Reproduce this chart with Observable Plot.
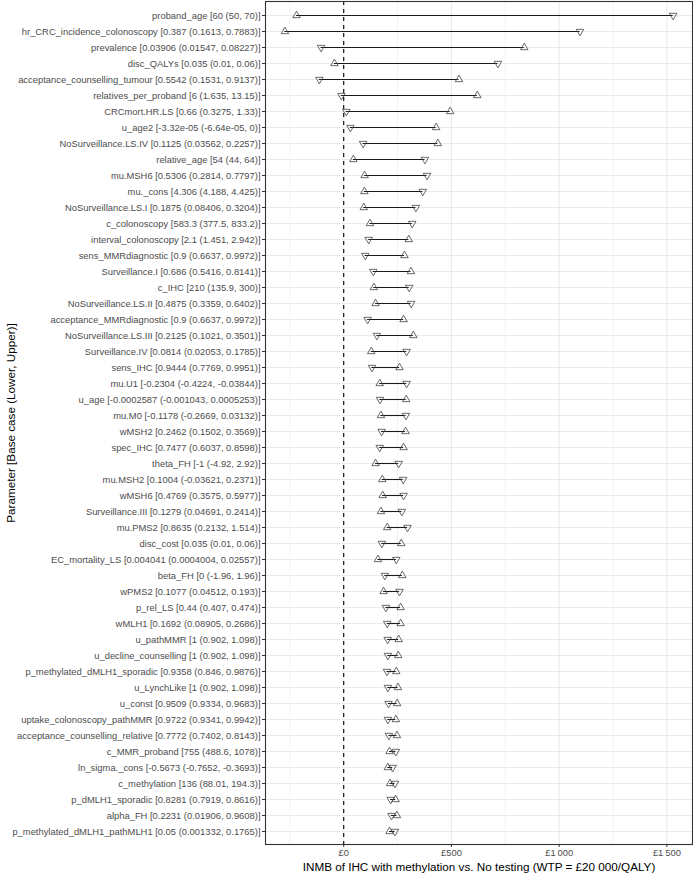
<!DOCTYPE html>
<html>
<head>
<meta charset="utf-8">
<script src="https://cdn.jsdelivr.net/npm/d3@7"></script>
<script src="https://cdn.jsdelivr.net/npm/@observablehq/plot@0.6"></script>
<style>
  html, body { margin: 0; padding: 0; background: #fff; }
  #chart svg { font-family: "Liberation Sans", Arial, Helvetica, sans-serif; }
  #chart g[aria-label="y-axis tick label"] text,
  #chart g[aria-label="x-axis tick label"] text { fill: #4d4d4d; }
  #chart g[aria-label="y-axis label"] text { font-size: 11.7px; fill: #000; }
</style>
</head>
<body>
<div id="chart"></div>
<script>
const params = [
  "proband_age","hr_CRC_incidence_colonoscopy","prevalence","disc_QALYs","acceptance_counselling_tumour",
  "relatives_per_proband","CRCmort.HR.LS","u_age2","NoSurveillance.LS.IV","relative_age",
  "mu.MSH6","mu._cons","NoSurveillance.LS.I","c_colonoscopy","interval_colonoscopy",
  "sens_MMRdiagnostic","Surveillance.I","c_IHC","NoSurveillance.LS.II","acceptance_MMRdiagnostic",
  "NoSurveillance.LS.III","Surveillance.IV","sens_IHC","mu.U1","u_age",
  "mu.M0","wMSH2","spec_IHC","theta_FH","mu.MSH2",
  "wMSH6","Surveillance.III","mu.PMS2","disc_cost","EC_mortality_LS",
  "beta_FH","wPMS2","p_rel_LS","wMLH1","u_pathMMR",
  "u_decline_counselling","p_methylated_dMLH1_sporadic","u_LynchLike","u_const","uptake_colonoscopy_pathMMR",
  "acceptance_counselling_relative","c_MMR_proband","ln_sigma._cons","c_methylation","p_dMLH1_sporadic",
  "alpha_FH","p_methylated_dMLH1_pathMLH1"
];
const baseCase = [
  "60","0.387","0.03906","0.035","0.5542",
  "6","0.66","-3.32e-05","0.1125","54",
  "0.5306","4.306","0.1875","583.3","2.1",
  "0.9","0.686","210","0.4875","0.9",
  "0.2125","0.0814","0.9444","-0.2304","-0.0002587",
  "-0.1178","0.2462","0.7477","-1","0.1004",
  "0.4769","0.1279","0.8635","0.035","0.004041",
  "0","0.1077","0.44","0.1692","1",
  "1","0.9358","1","0.9509","0.9722",
  "0.7772","755","-0.5673","136","0.8281",
  "0.2231","0.05"
];
const lowerValue = [
  "50","0.1613","0.01547","0.01","0.1531",
  "1.635","0.3275","-6.64e-05","0.03562","44",
  "0.2814","4.188","0.08406","377.5","1.451",
  "0.6637","0.5416","135.9","0.3359","0.6637",
  "0.1021","0.02053","0.7769","-0.4224","-0.001043",
  "-0.2669","0.1502","0.6037","-4.92","-0.03621",
  "0.3575","0.04691","0.2132","0.01","0.0004004",
  "-1.96","0.04512","0.407","0.08905","0.902",
  "0.902","0.846","0.902","0.9334","0.9341",
  "0.7402","488.6","-0.7652","88.01","0.7919",
  "0.01906","0.001332"
];
const upperValue = [
  "70","0.7883","0.08227","0.06","0.9137",
  "13.15","1.33","0","0.2257","64",
  "0.7797","4.425","0.3204","833.2","2.942",
  "0.9972","0.8141","300","0.6402","0.9972",
  "0.3501","0.1785","0.9951","-0.03844","0.0005253",
  "0.03132","0.3569","0.8598","2.92","0.2371",
  "0.5977","0.2414","1.514","0.06","0.02557",
  "1.96","0.193","0.474","0.2686","1.098",
  "1.098","0.9876","1.098","0.9683","0.9942",
  "0.8143","1078","-0.3693","194.3","0.8616",
  "0.9608","0.1765"
];
// INMB (£) with parameter at its lower value (down-pointing triangle)
const inmbAtLower = [
  1529,1097,-105,716,-113,
  -11,12,31,90,377,
  387,367,335,318,116,
  100,137,304,313,111,
  154,292,131,292,168,
  289,176,167,255,276,
  278,270,296,177,244,
  191,259,196,202,204,
  205,201,205,208,205,
  210,242,227,238,218,
  222,238
];
// INMB (£) with parameter at its upper value (up-pointing triangle)
const inmbAtUpper = [
  -219,-273,838,-43,535,
  620,494,429,437,45,
  97,96,93,122,302,
  282,312,140,148,278,
  323,128,259,167,290,
  173,287,278,148,179,
  181,173,202,267,159,
  272,185,264,264,255,
  253,244,252,248,242,
  247,213,205,215,241,
  247,213
];
const xTicks = [0, 500, 1000, 1500];
const xMinorTicks = [-250, 250, 750, 1250];
const xTitle = "INMB of IHC with methylation vs. No testing (WTP = £20 000/QALY)";
const yTitle = "Parameter [Base case (Lower, Upper)]";

const rows = params.map((p, i) => ({
  label: `${p} [${baseCase[i]} (${lowerValue[i]}, ${upperValue[i]})]`,
  lo: inmbAtLower[i],
  hi: inmbAtUpper[i]
}));
const labels = rows.map(d => d.label);

const fmt = d => "£" + d3.format(",")(d).replace(/,/g, "\u2009");

const chart = Plot.plot({
  width: 693,
  height: 873,
  marginLeft: 265,
  marginRight: 1,
  marginTop: 1,
  marginBottom: 29,
  style: { fontSize: "9.4px", fontFamily: "Liberation Sans, Arial, sans-serif", background: "#fff" },
  x: { domain: [-363, 1619], label: null },
  y: { type: "point", domain: labels, padding: 0.6, label: null },
  marks: [
    Plot.gridX(xMinorTicks, { stroke: "#ebebeb", strokeOpacity: 1, strokeWidth: 0.6 }),
    Plot.gridX(xTicks, { stroke: "#ebebeb", strokeOpacity: 1, strokeWidth: 1.1 }),
    Plot.gridY(labels, { stroke: "#ebebeb", strokeOpacity: 1, strokeWidth: 1.1 }),
    Plot.ruleX([0], { stroke: "#000", strokeWidth: 1.1, strokeDasharray: "4,4" }),
    Plot.ruleY(rows, { y: "label", x1: "lo", x2: "hi", stroke: "#1a1a1a", strokeWidth: 1.1 }),
    Plot.dot(rows, { x: "lo", y: "label", symbol: "triangle", rotate: 180, r: 2.8, fill: "white", fillOpacity: 0, stroke: "#444", strokeWidth: 0.8 }),
    Plot.dot(rows, { x: "hi", y: "label", symbol: "triangle", r: 2.8, fill: "white", fillOpacity: 0, stroke: "#444", strokeWidth: 0.8 }),
    Plot.frame({ stroke: "#333", strokeWidth: 1.1 }),
    Plot.axisY({ tickSize: 3, tickPadding: 2, stroke: "#333",
      label: yTitle, labelAnchor: "center", labelOffset: 259 }),
    Plot.axisX(xTicks, { tickSize: 3, tickPadding: 2, stroke: "#333", tickFormat: fmt, label: null }),
    Plot.text([xTitle], { frameAnchor: "bottom", dy: 23, lineAnchor: "middle", fontSize: 11.7, fill: "#000" })
  ]
});
document.getElementById("chart").appendChild(chart);
</script>
</body>
</html>
